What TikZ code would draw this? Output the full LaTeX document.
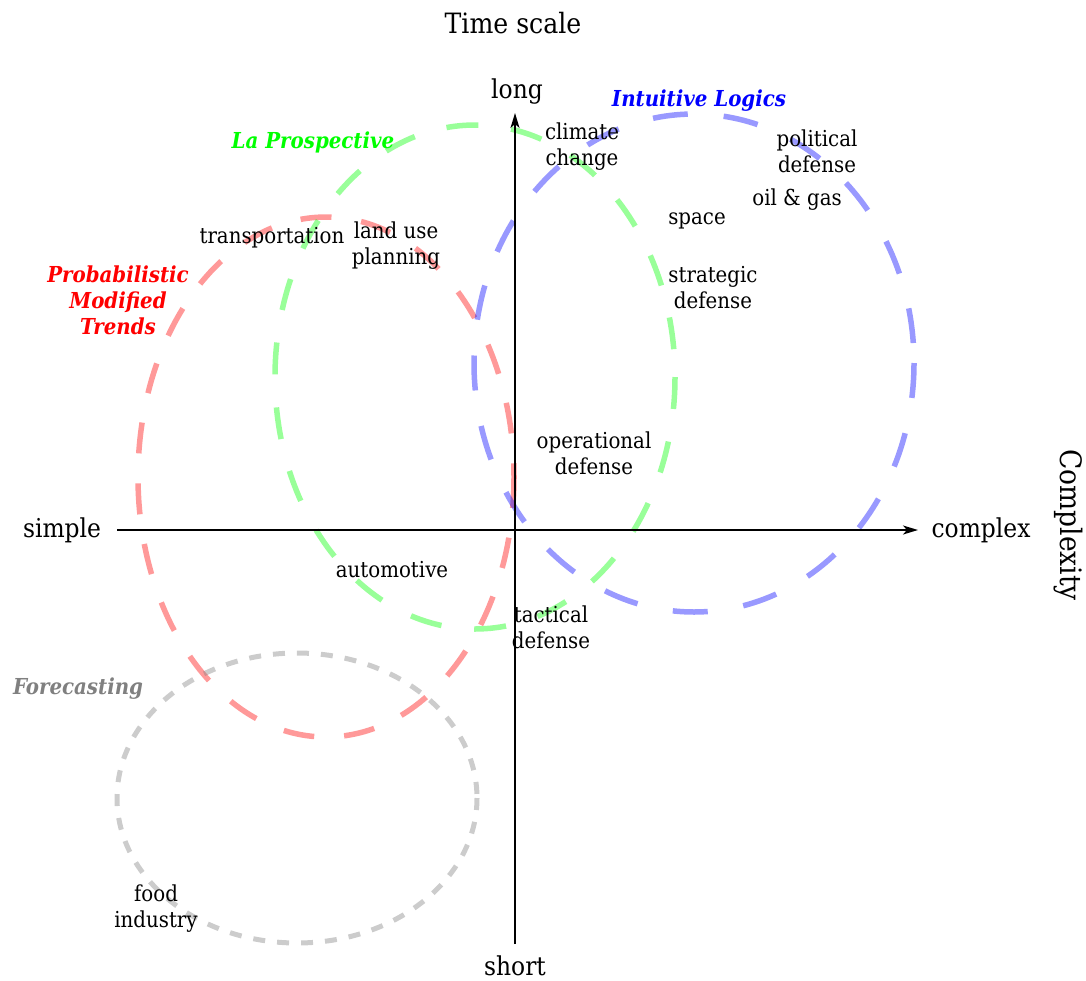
\documentclass[tikz,border=0pt]{standalone}
\usepackage{fontspec}
\setmainfont{DejaVu Serif Condensed}
\usetikzlibrary{arrows.meta}
\definecolor{trendred}{HTML}{FF0000}
\definecolor{prospgreen}{HTML}{00FF00}
\definecolor{logicblue}{HTML}{0000FF}
\definecolor{forecastgray}{HTML}{808080}
\tikzset{
  ring/.style={line width=5.5pt, draw opacity=0.4},
  method/.style={font=\fontsize{22}{26}\selectfont\bfseries\itshape, align=center},
  case/.style={font=\fontsize{22}{26}\selectfont, align=center},
  axislabel/.style={font=\fontsize{26}{30}\selectfont},
  axis/.style={line width=1.6pt, -{Stealth[length=15pt, width=9pt, inset=4pt]}},
}

\begin{document}
\begin{tikzpicture}[x=1pt, y=-1pt]
  \useasboundingbox (0,0) rectangle (1086,980);

  % method rings
  \draw[ring, trendred, dash pattern=on 31pt off 30pt] (326,477) ellipse [x radius=188, y radius=260];
  \draw[ring, prospgreen, dash pattern=on 32pt off 33pt] (475,377) ellipse [x radius=200, y radius=252];
  \draw[ring, logicblue, dash pattern=on 35pt off 36pt] (694,363) ellipse [x radius=220, y radius=249];
  \draw[ring, forecastgray, line width=5pt, dash pattern=on 12pt off 12pt] (297,798) ellipse [x radius=180, y radius=145];

  % axes
  \coordinate (left) at (117,530);
  \coordinate (right) at (918,530);
  \coordinate (bottom) at (515,944);
  \coordinate (top) at (515,113);
  \draw[axis] (left) -- (right);
  \draw[axis] (bottom) -- (top);

  \node[axislabel, font=\fontsize{28}{32}\selectfont] (timescale) at (513,23) {Time scale};
  \node[axislabel] (long) at (517,92) {long};
  \node[axislabel, anchor=base, inner sep=0pt] (short) at (515,975) {short};
  \node[axislabel] (simple) at (62,530) {simple};
  \node[axislabel] (complex) at (981,530) {complex};
  \node[axislabel, font=\fontsize{29.5}{32}\selectfont, rotate=-90] (complexity) at (1068,525) {Complexity};

  % method names
  \node[method, text=prospgreen] (prospective) at (313,142) {La Prospective};
  \node[method, text=logicblue] (logics) at (699,101) {Intuitive Logics};
  \node[method, text=trendred] (trends) at (118,300) {Probabilistic\\Modified\\Trends};
  \node[method, text=forecastgray] (forecasting) at (78,689) {Forecasting};

  % application areas
  \node[case] (climate) at (582,147) {climate\\change};
  \node[case] (political) at (817,151) {political\\defense};
  \node[case] (oilgas) at (797,200) {oil \& gas};
  \node[case] (space) at (697,221) {space};
  \node[case] (strategic) at (713,288) {strategic\\defense};
  \node[case] (transport) at (272,238) {transportation};
  \node[case] (landuse) at (396,246) {land use\\planning};
  \node[case] (operational) at (594,453) {operational\\defense};
  \node[case] (automotive) at (392,570) {automotive};
  \node[case] (tactical) at (551,627) {tactical\\defense};
  \node[case] (food) at (156,909) {food\\industry};
\end{tikzpicture}
\end{document}
